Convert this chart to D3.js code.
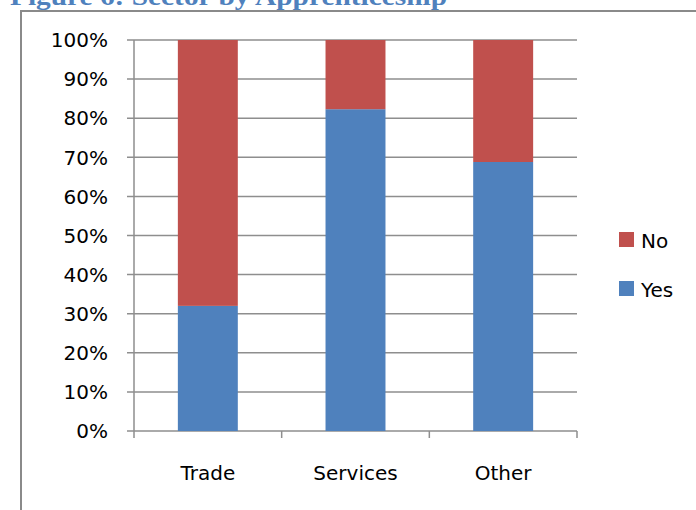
<!DOCTYPE html>
<html>
<head>
<meta charset="utf-8">
<script src="https://cdn.jsdelivr.net/npm/d3@7"></script>
<style>
	body { margin: 0; background: #fff; }
	svg { display: block; }
</style>
</head>
<body>
<script>
const categories = ['Trade', 'Services', 'Other'],
	yesValues = [32, 82.3, 68.8],
	noValues = [68, 17.7, 31.2],
	yTicks = [0, 10, 20, 30, 40, 50, 60, 70, 80, 90, 100],
	seriesNames = ['No', 'Yes'];

const W = 696, H = 510,
	margin = { top: 40, left: 134, right: 119, bottom: 79 },
	fontSize = '20px',
	gridColor = '#8e8e8e',
	colors = { Yes: '#4f81bd', No: '#c0504d' };

let svg = d3.select('body').append('svg')
	.attr('width', W)
	.attr('height', H);

// chart frame (clipped by the page on the right and bottom)
svg.append('rect')
	.attr('x', 21).attr('y', 11)
	.attr('width', 720).attr('height', 600)
	.attr('fill', 'none')
	.attr('stroke', '#8a8a8a')
	.attr('stroke-width', 2);

// title, cut off at the top
svg.append('text')
	.attr('x', 10).attr('y', 5)
	.attr('font-family', '"Liberation Serif", "DejaVu Serif", serif')
	.attr('font-weight', 'bold')
	.attr('font-size', '25px')
	.attr('fill', '#4f81bd')
	.attr('textLength', 437)
	.attr('lengthAdjust', 'spacingAndGlyphs')
	.text('Figure 6: Sector by Apprenticeship');

let x = d3.scaleBand()
	.domain(categories)
	.range([margin.left, W - margin.right])
	.paddingInner(0.594)
	.paddingOuter(0.297);

let y = d3.scaleLinear()
	.domain([0, 100])
	.range([H - margin.bottom, margin.top]);

// gridlines
svg.append('g').selectAll('line')
	.data(yTicks)
	.enter().append('line')
	.attr('x1', margin.left - 7)
	.attr('x2', W - margin.right)
	.attr('y1', d => y(d))
	.attr('y2', d => y(d))
	.attr('stroke', gridColor)
	.attr('stroke-width', 1.5);

// y tick labels
svg.append('g').selectAll('text')
	.data(yTicks)
	.enter().append('text')
	.attr('x', 108)
	.attr('y', d => y(d))
	.attr('dy', '0.36em')
	.attr('text-anchor', 'end')
	.attr('font-family', '"DejaVu Sans", sans-serif')
	.attr('font-size', fontSize)
	.attr('fill', '#000')
	.text(d => d + '%');

// y axis line
svg.append('line')
	.attr('x1', margin.left).attr('x2', margin.left)
	.attr('y1', y(100)).attr('y2', y(0) + 7)
	.attr('stroke', gridColor)
	.attr('stroke-width', 1.5);

// category boundary ticks
let step = x.step();
let bounds = d3.range(1, categories.length + 1).map(i => margin.left + i * (W - margin.right - margin.left) / categories.length);
svg.append('g').selectAll('line')
	.data(bounds)
	.enter().append('line')
	.attr('x1', d => d).attr('x2', d => d)
	.attr('y1', y(0)).attr('y2', y(0) + 7)
	.attr('stroke', gridColor)
	.attr('stroke-width', 1.5);

// stacked bars
let rows = categories.map((c, i) => ({ cat: c, Yes: yesValues[i], No: noValues[i] }));
let stack = d3.stack().keys(['Yes', 'No'])(rows);

svg.append('g').selectAll('g')
	.data(stack)
	.enter().append('g')
	.attr('fill', d => colors[d.key])
	.selectAll('rect')
	.data(d => d)
	.enter().append('rect')
	.attr('x', d => x(d.data.cat))
	.attr('width', x.bandwidth())
	.attr('y', d => y(d[1]))
	.attr('height', d => y(d[0]) - y(d[1]));

// category labels
svg.append('g').selectAll('text')
	.data(categories)
	.enter().append('text')
	.attr('x', d => x(d) + x.bandwidth() / 2)
	.attr('y', 480)
	.attr('text-anchor', 'middle')
	.attr('font-family', '"DejaVu Sans", sans-serif')
	.attr('font-size', fontSize)
	.attr('fill', '#000')
	.text(d => d);

// legend
let legend = svg.append('g').selectAll('g')
	.data(seriesNames)
	.enter().append('g')
	.attr('transform', (d, i) => 'translate(619,' + (232 + i * 49) + ')');

legend.append('rect')
	.attr('width', 15).attr('height', 15)
	.attr('fill', d => colors[d]);

legend.append('text')
	.attr('x', 22).attr('y', 16)
	.attr('font-family', '"DejaVu Sans", sans-serif')
	.attr('font-size', fontSize)
	.attr('fill', '#000')
	.text(d => d);
</script>
</body>
</html>
